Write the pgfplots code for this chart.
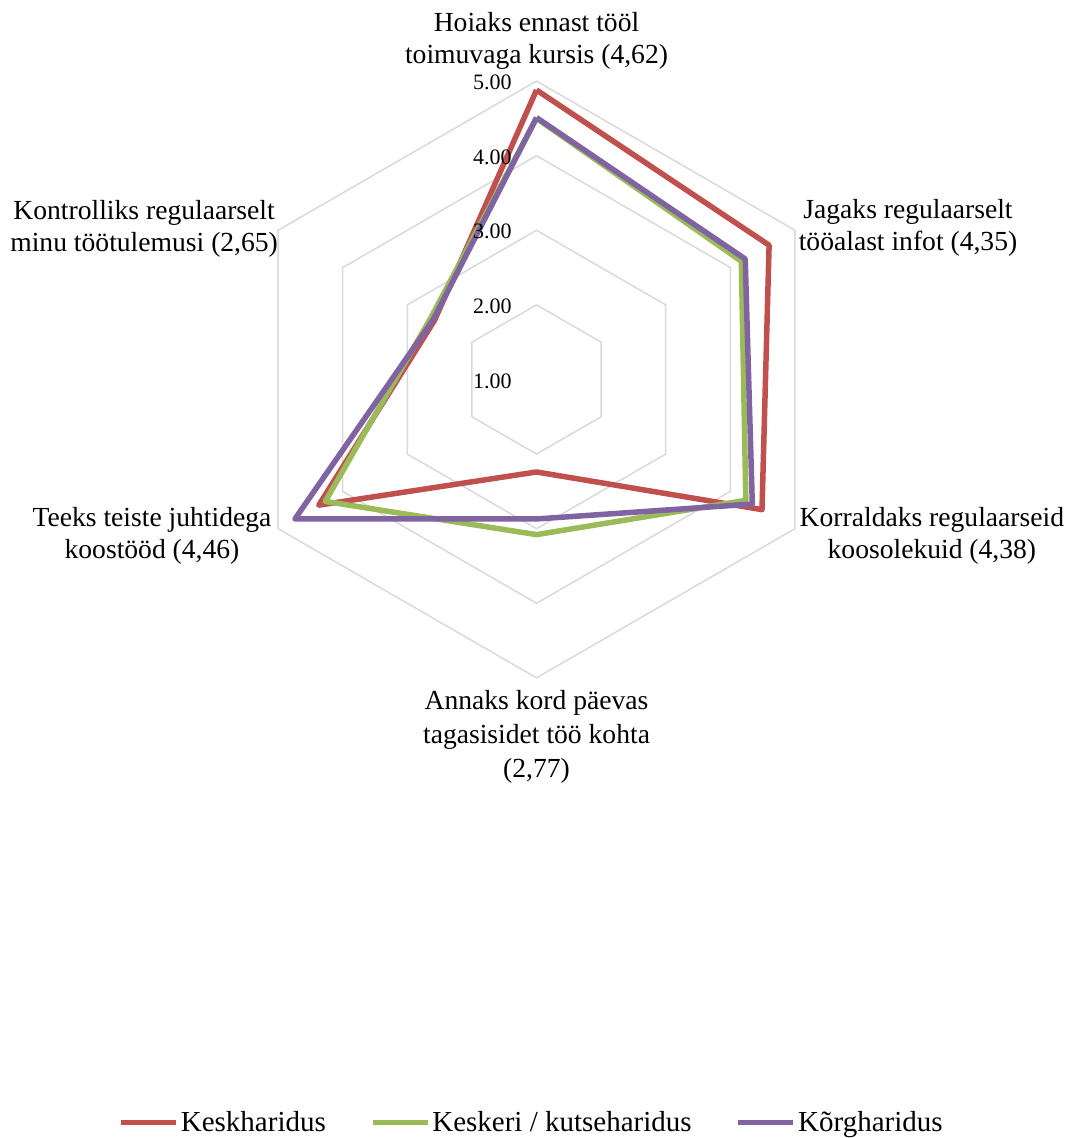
\documentclass[border=0pt]{standalone}
\usepackage{pgfplots}
\pgfplotsset{compat=1.18}
\usepackage{pgfplotstable}
\usepackage{fontspec}
\setmainfont{Liberation Serif}
\definecolor{cred}{HTML}{C0504D}
\definecolor{cgreen}{HTML}{9BBB59}
\definecolor{cpurple}{HTML}{8064A2}
\definecolor{cgrid}{HTML}{D9D9D9}

\pgfplotstableread{
ang kesk keskeri korg
90 4.88 4.50 4.51
30 4.60 4.17 4.23
-30 4.49 4.24 4.34
-90 2.24 3.08 2.87
-150 4.37 4.27 4.74
150 2.58 2.64 2.60
90 4.88 4.50 4.51
}\chartdata

\pgfplotstableread{
ang r
90 1
30 1
-30 1
-90 1
-150 1
150 1
90 1
}\hexgrid

\begin{document}
\begin{tikzpicture}
\begin{axis}[
  x=37.3pt, y=37.3pt,
  xmin=-7.192, xmax=7.125, ymin=-10.168, ymax=5.087,
  hide axis, clip=false,
  legend columns=3,
  legend cell align=left,
  legend style={at={(axis cs:-0.067,-9.96)}, anchor=center, draw=none, fill=none,
    inner sep=0pt,
    font=\fontsize{14.5}{16}\selectfont,
    nodes={inner xsep=1pt, inner ysep=0pt},
    /tikz/every even column/.append style={column sep=21pt}},
  legend image code/.code={\draw[#1, line width=2.75pt] (0pt,0pt) -- (27.5pt,0pt);},
]
\path (rel axis cs:0,0) rectangle (rel axis cs:1,1);
\addplot[cgrid, line width=0.75pt, line join=miter, data cs=polar, forget plot]
  table[x=ang, y expr=\thisrow{r}*1] {\hexgrid};
\addplot[cgrid, line width=0.75pt, line join=miter, data cs=polar, forget plot]
  table[x=ang, y expr=\thisrow{r}*2] {\hexgrid};
\addplot[cgrid, line width=0.75pt, line join=miter, data cs=polar, forget plot]
  table[x=ang, y expr=\thisrow{r}*3] {\hexgrid};
\addplot[cgrid, line width=0.75pt, line join=miter, data cs=polar, forget plot]
  table[x=ang, y expr=\thisrow{r}*4] {\hexgrid};

\addplot[cred, line width=2.75pt, line join=round, data cs=polar]
  table[x=ang, y expr=\thisrow{kesk}-1] {\chartdata};
\addlegendentry{Keskharidus}
\addplot[cgreen, line width=2.75pt, line join=round, data cs=polar]
  table[x=ang, y expr=\thisrow{keskeri}-1] {\chartdata};
\addlegendentry{Keskeri / kutseharidus}
\addplot[cpurple, line width=2.75pt, line join=round, data cs=polar]
  table[x=ang, y expr=\thisrow{korg}-1] {\chartdata};
\addlegendentry{Kõrgharidus}

\begin{scope}[every node/.style={anchor=east, inner sep=0pt, font=\fontsize{11}{13}\selectfont}]
\node at (axis cs:-0.33,-0.02) {1.00};
\node at (axis cs:-0.33,0.98) {2.00};
\node at (axis cs:-0.33,1.98) {3.00};
\node at (axis cs:-0.33,2.98) {4.00};
\node at (axis cs:-0.33,3.98) {5.00};
\end{scope}
\begin{scope}[every node/.style={align=center, inner sep=0pt, font=\fontsize{13.8}{16}\selectfont}]
\node at (axis cs:0,4.538) {Hoiaks ennast tööl\\toimuvaga kursis (4,62)};
\node at (axis cs:4.98,2.035) {Jagaks regulaarselt\\tööalast infot (4,35)};
\node at (axis cs:5.30,-2.09) {Korraldaks regulaarseid\\koosolekuid (4,38)};
\node[font=\fontsize{13.8}{17}\selectfont] at (axis cs:0,-4.79) {Annaks kord päevas\\tagasisidet töö kohta\\(2,77)};
\node at (axis cs:-5.154,-2.10) {Teeks teiste juhtidega\\koostööd (4,46)};
\node at (axis cs:-5.26,2.02) {Kontrolliks regulaarselt\\minu töötulemusi (2,65)};
\end{scope}
\end{axis}
\end{tikzpicture}
\end{document}
